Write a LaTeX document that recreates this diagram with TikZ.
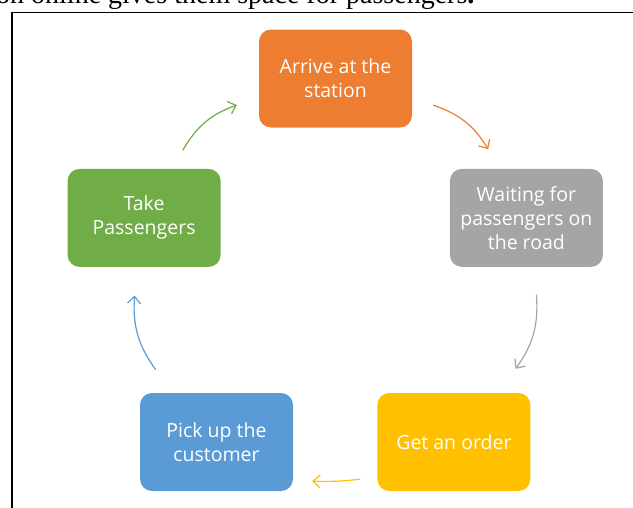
\documentclass[tikz,border=0pt]{standalone}
\usepackage{fontspec}
\setmainfont{Open Sans}
\newfontfamily\introfont{Liberation Serif}
\usetikzlibrary{arrows.meta,positioning}
\definecolor{stepOrange}{HTML}{ED7D31}
\definecolor{stepGray}{HTML}{A5A5A5}
\definecolor{stepYellow}{HTML}{FFC000}
\definecolor{stepBlue}{HTML}{5B9BD5}
\definecolor{stepGreen}{HTML}{70AD47}

\begin{document}
\begin{tikzpicture}[
  x=1pt, y=1pt,
  node distance=41pt and 37.5pt,
  box/.style={fill=#1, text=white, rounded corners=12pt, align=center,
    minimum width=153pt, minimum height=98pt, inner sep=0pt,
    font=\fontsize{19.5}{24}\selectfont},
  arrow/.style={draw=#1, line width=1.2pt, -{Straight Barb[length=7pt,width=13pt]}}
]
\useasboundingbox (0,0) rectangle (633,-507);

\node[anchor=base west, inner sep=0pt, font=\introfont\fontsize{28}{34}\selectfont] (intro) at (-4,-3)
  {on online gives them space for passengers\textbf{.}};
\draw[line width=1.5pt] (12,-12.5) rectangle (650,-520);

\node[box=stepOrange] (arrive) at (335.5,-78.5) {Arrive at the\\station};
\node[box=stepGray, below right=of arrive] (waiting) {Waiting for\\passengers on\\the road};
\node[box=stepGreen, below left=41pt and 38pt of arrive] (take) {Take\\Passengers};
\node[box=stepBlue] (pickup) at (216.5,-442) {Pick up the\\customer};
\node[box=stepYellow, right=84pt of pickup] (order) {Get an order};

% free ends of the curved arrows
\coordinate (arrive-out) at ([shift={(21,22.5)}]arrive.south east);
\coordinate (waiting-in) at ([shift={(38.5,19.5)}]waiting.north west);
\coordinate (waiting-out) at ([shift={(10,-27.5)}]waiting.south);
\coordinate (order-in) at ([shift={(-15,24)}]order.north east);
\coordinate (order-out) at ([shift={(-17,12)}]order.south west);
\coordinate (pickup-in) at ([shift={(19,10)}]pickup.south east);
\coordinate (pickup-out) at ([shift={(16,23)}]pickup.north west);
\coordinate (take-in) at ([shift={(-9.5,-28.5)}]take.south);
\coordinate (take-out) at ([shift={(-38,18.5)}]take.north east);
\coordinate (arrive-in) at ([shift={(-22,-26.5)}]arrive.west);

\draw[arrow=stepOrange] (arrive-out) to[bend left=20] (waiting-in);
\draw[arrow=stepGray] (waiting-out) to[bend left=20] (order-in);
\draw[arrow=stepYellow] (order-out) to[bend left=4] (pickup-in);
\draw[arrow=stepBlue] (pickup-out) to[bend left=20] (take-in);
\draw[arrow=stepGreen] (take-out) to[bend left=20] (arrive-in);
\end{tikzpicture}
\end{document}
